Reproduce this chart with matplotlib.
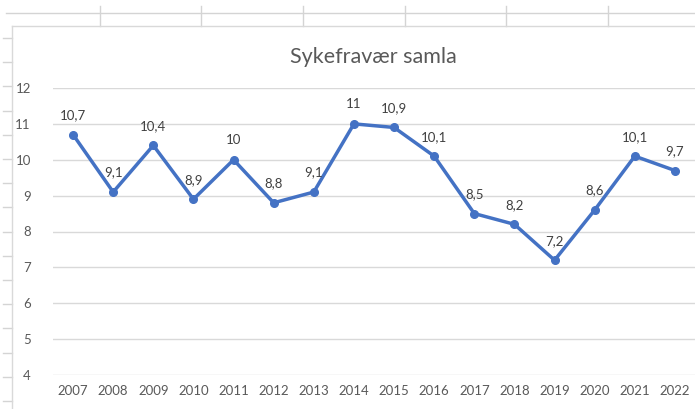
import matplotlib
matplotlib.use("Agg")
import matplotlib.pyplot as plt
from matplotlib.lines import Line2D

years = ["2007", "2008", "2009", "2010", "2011", "2012", "2013", "2014",
         "2015", "2016", "2017", "2018", "2019", "2020", "2021", "2022"]
values = [10.7, 9.1, 10.4, 8.9, 10, 8.8, 9.1, 11, 10.9, 10.1, 8.5, 8.2, 7.2, 8.6, 10.1, 9.7]
title = "Sykefravær samla"
yticks = [4, 5, 6, 7, 8, 9, 10, 11, 12]

plt.rcParams['font.family'] = ['Lato', 'DejaVu Sans']

W, H = 695, 409
fig = plt.figure(figsize=(W / 100, H / 100), dpi=100)

# spreadsheet decoration (figure pixel coords)
def fx(x): return x / W
def fy(y): return 1 - y / H
sheet_c = "#d4d4d4"
fig.add_artist(Line2D([fx(6), fx(695)], [fy(13), fy(13)], color=sheet_c, lw=1.0))
for vx in [100, 201, 303, 405, 506, 608]:
    fig.add_artist(Line2D([fx(vx), fx(vx)], [fy(6), fy(26)], color=sheet_c, lw=1.0))
for k in range(16):
    yy = 38 + 24.2 * k
    fig.add_artist(Line2D([fx(3), fx(12)], [fy(yy), fy(yy)], color=sheet_c, lw=1.0))
# chart border
fig.add_artist(Line2D([fx(12), fx(695)], [fy(26), fy(26)], color="#d9d9d9", lw=1.0))
fig.add_artist(Line2D([fx(12), fx(12)], [fy(26), fy(409)], color="#d9d9d9", lw=1.0))

ax = fig.add_axes([53 / W, 1 - 375 / H, (695 - 53) / W, (375 - 88) / H])
x = list(range(len(years)))
ax.plot(x, values, color="#4472c4", lw=2.5, marker="o", markersize=5.5,
        markerfacecolor="#4472c4", markeredgecolor="#4472c4", zorder=3)
for xi, v in zip(x, values):
    lab = f"{v:g}".replace(".", ",")
    ax.annotate(lab, (xi, v), xytext=(0, 14), textcoords="offset points",
                ha="center", va="center", fontsize=9.5, color="#404040")

ax.set_xlim(-0.5, len(years) - 0.5)
ax.set_ylim(4, 12)
ax.set_yticks(yticks)
ax.set_yticklabels([str(t) for t in yticks])
ax.set_xticks(x)
ax.set_xticklabels(years)
ax.tick_params(axis="both", length=0, labelsize=9.5, labelcolor="#595959")
ax.tick_params(axis="y", pad=16)
ax.tick_params(axis="x", pad=7)
ax.grid(axis="y", color="#d9d9d9", lw=1.0)
ax.set_axisbelow(True)
for s in ax.spines.values():
    s.set_visible(False)

fig.text(373 / W, 1 - 57 / H, title, ha="center", va="center", fontsize=15.5, color="#595959")

fig.savefig("out.png", dpi=100)
